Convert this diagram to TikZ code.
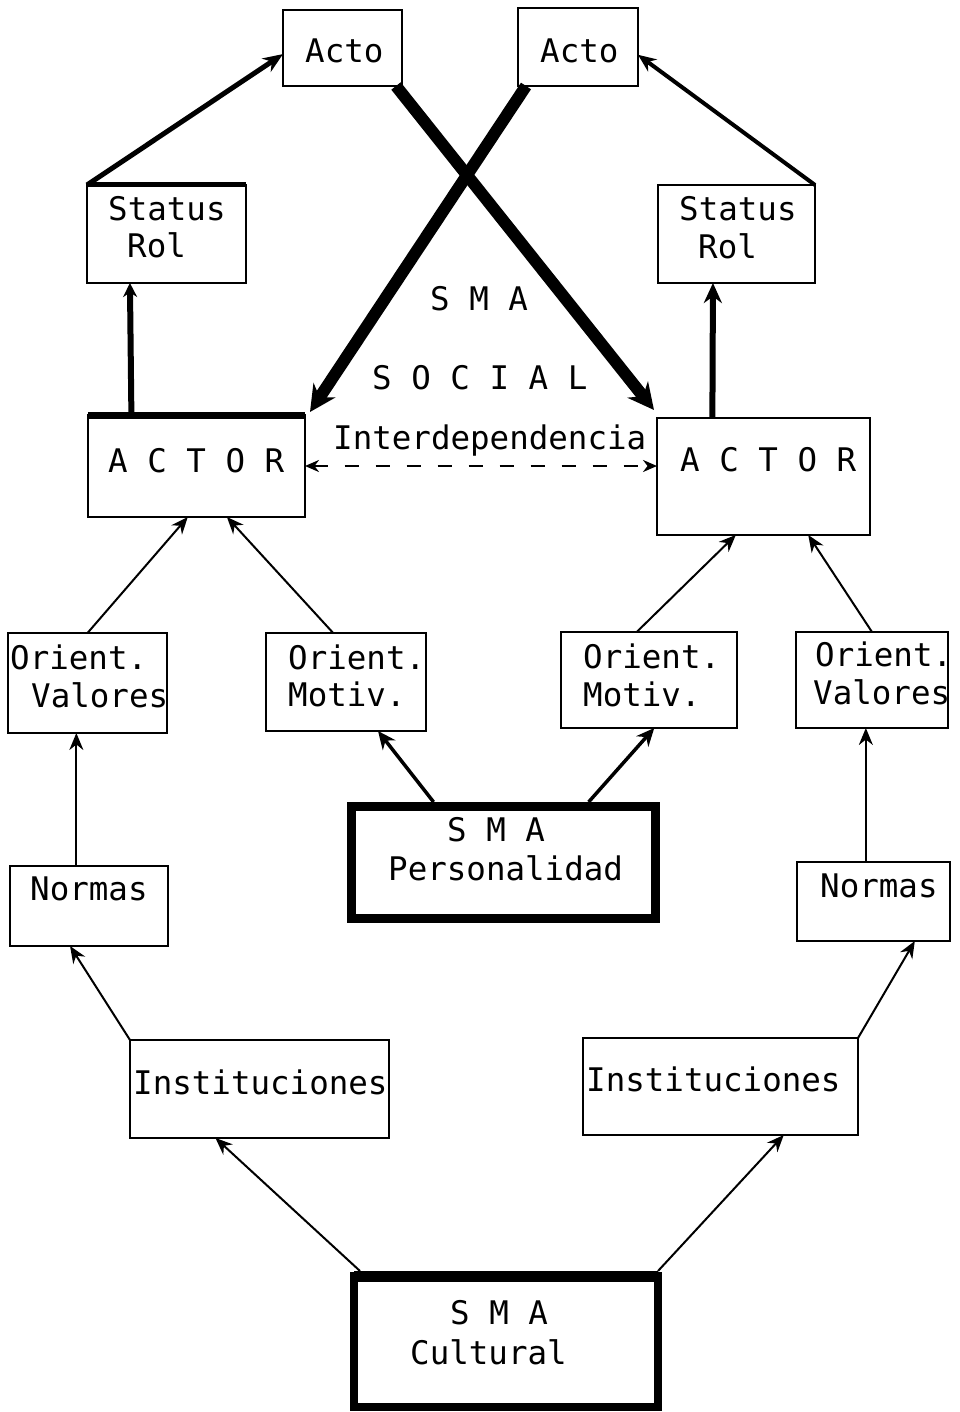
\documentclass[tikz,border=0pt]{standalone}
\usepackage{fontspec}
\setmainfont{DejaVu Sans Mono}
\usetikzlibrary{arrows.meta,calc}
\begin{document}
\begin{tikzpicture}[x=1pt,y=-1pt,
  box/.style={draw,line width=2pt,inner sep=0pt,outer sep=0pt,anchor=north west},
  heavybox/.style={draw,line width=9pt,inner sep=0pt,outer sep=0pt,anchor=north west},
  txt/.style={inner sep=0pt,anchor=mid west,yshift=-10pt,font=\fontsize{32.5}{36}\selectfont},
  thinarr/.style={line width=2pt,-{Stealth[length=17pt,width=14pt]}},
  medarr/.style={line width=3.5pt,-{Stealth[length=18pt,width=16pt]}},
  bigarr/.style={line width=12pt,-{Stealth[length=26pt,width=26pt]}}]
\useasboundingbox (0,0) rectangle (960,1412);
\fill[white] (0,0) rectangle (960,1412);
% boxes
\node[box,minimum width=119pt,minimum height=76pt] (actoL) at (283,10) {};
\node[box,minimum width=120pt,minimum height=78pt] (actoR) at (518,8) {};
\node[box,minimum width=159pt,minimum height=98pt] (stL) at (87,185) {};
\node[box,minimum width=157pt,minimum height=98pt] (stR) at (658,185) {};
\node[box,minimum width=217pt,minimum height=102pt] (acL) at (88,415) {};
\node[box,minimum width=213pt,minimum height=117pt] (acR) at (657,418) {};
\node[box,minimum width=159pt,minimum height=100pt] (ovL) at (8,633) {};
\node[box,minimum width=160pt,minimum height=98pt] (omL) at (266,633) {};
\node[box,minimum width=176pt,minimum height=96pt] (omR) at (561,632) {};
\node[box,minimum width=152pt,minimum height=96pt] (ovR) at (796,632) {};
\node[heavybox,minimum width=304pt,minimum height=112pt] (pers) at (351.5,806.5) {};
\node[box,minimum width=158pt,minimum height=80pt] (nL) at (10,866) {};
\node[box,minimum width=153pt,minimum height=79pt] (nR) at (797,862) {};
\node[box,minimum width=259pt,minimum height=98pt] (iL) at (130,1040) {};
\node[box,minimum width=275pt,minimum height=97pt] (iR) at (583,1038) {};
\node[heavybox,line width=8pt,minimum width=304pt,minimum height=131pt] (cult) at (354,1276) {};
% heavy top edges
\draw[line width=5pt] (stL.north west) -- (stL.north east);
\draw[line width=7pt] (acL.north west) -- (acL.north east);
\draw[line width=11pt] (cult.north west) -- (cult.north east);
% texts
\node[txt] (tActoL) at (305,50) {Acto};
\node[txt] (tActoR) at (540,50) {Acto};
\node[txt] (tStL1) at (108,208) {Status};
\node[txt] (tStL2) at (127,245) {Rol};
\node[txt] (tStR1) at (679,208) {Status};
\node[txt] (tStR2) at (698,246) {Rol};
\node[txt] (tSMA) at (430,298) {S M A};
\node[txt] (tSOC) at (372,377) {S O C I A L};
\node[txt] (tInt) at (333,437) {Interdependencia};
\node[txt] (tAcL) at (108,460) {A C T O R};
\node[txt] (tAcR) at (680,459) {A C T O R};
\node[txt] (tOvL1) at (10,657) {Orient.};
\node[txt] (tOvL2) at (31,695) {Valores};
\node[txt] (tOmL1) at (288,657) {Orient.};
\node[txt] (tOmL2) at (288,694) {Motiv.};
\node[txt] (tOmR1) at (583,656) {Orient.};
\node[txt] (tOmR2) at (583,694) {Motiv.};
\node[txt] (tOvR1) at (815,654) {Orient.};
\node[txt] (tOvR2) at (813,692) {Valores};
\node[txt] (tPers1) at (447,829) {S M A};
\node[txt] (tPers2) at (388,868) {Personalidad};
\node[txt] (tNL) at (30,888) {Normas};
\node[txt] (tNR) at (820,885) {Normas};
\node[txt] (tIL) at (133,1082) {Instituciones};
\node[txt] (tIR) at (586,1079) {Instituciones};
\node[txt] (tCul1) at (450,1312) {S M A};
\node[txt] (tCul2) at (410,1352) {Cultural};
% connectors
\draw[line width=5pt,-{Stealth[length=20pt,width=16pt]}] (stL.north west) -- ($(actoL.north west)!0.58!(actoL.south west)$);
\draw[line width=6pt,-{Stealth[length=14pt,width=14pt]}] ($(acL.north west)!0.2!(acL.north east)$) -- ($(stL.south west)!0.27!(stL.south east)$);
\draw[bigarr] ($(actoL.south east)+(-6,0)$) -- ($(acR.north west)+(-3,-8)$);
\draw[bigarr] ($(actoR.south west)+(8,0)$) -- ($(acL.north east)+(5,-3)$);
\draw[line width=4pt,-{Stealth[length=18pt,width=15pt]}] (stR.north east) -- ($(actoR.north east)!0.6!(actoR.south east)$);
\draw[line width=6pt,-{Stealth[length=20pt,width=18pt]}] ($(acR.north west)!0.26!(acR.north east)$) -- ($(stR.south west)!0.35!(stR.south east)$);
\draw[line width=2.5pt,dash pattern=on 14pt off 17pt,{Stealth[length=14pt,width=12pt]}-{Stealth[length=14pt,width=12pt]}] (acL.east) -- (acL.east -| acR.west);
\draw[thinarr] ($(ovL.north west)!0.5!(ovL.north east)$) -- ($(acL.south west)!0.46!(acL.south east)$);
\draw[thinarr] ($(omL.north west)!0.42!(omL.north east)$) -- ($(acL.south west)!0.64!(acL.south east)$);
\draw[thinarr] ($(omR.north west)!0.43!(omR.north east)$) -- ($(acR.south west)!0.37!(acR.south east)$);
\draw[thinarr] ($(ovR.north west)!0.5!(ovR.north east)$) -- ($(acR.south west)!0.71!(acR.south east)$);
\coordinate (nLtop) at ($(nL.north west)!0.42!(nL.north east)$);
\coordinate (nRtop) at ($(nR.north west)!0.45!(nR.north east)$);
\draw[thinarr] (nLtop) -- (nLtop |- ovL.south);
\draw[thinarr] (nRtop) -- (nRtop |- ovR.south);
\draw[medarr] ($(pers.north west)!0.27!(pers.north east)+(0,-4.5)$) -- ($(omL.south west)!0.7!(omL.south east)$);
\draw[medarr] ($(pers.north west)!0.78!(pers.north east)+(0,-4.5)$) -- ($(omR.south west)!0.53!(omR.south east)$);
\draw[thinarr] (iL.north west) -- ($(nL.south west)!0.38!(nL.south east)$);
\draw[thinarr] (iR.north east) -- ($(nR.south west)!0.77!(nR.south east)$);
\draw[thinarr] ($(cult.north west)+(6,-5)$) -- ($(iL.south west)!0.33!(iL.south east)$);
\draw[thinarr] ($(cult.north east)+(0,-5)$) -- ($(iR.south west)!0.73!(iR.south east)$);
\end{tikzpicture}
\end{document}
